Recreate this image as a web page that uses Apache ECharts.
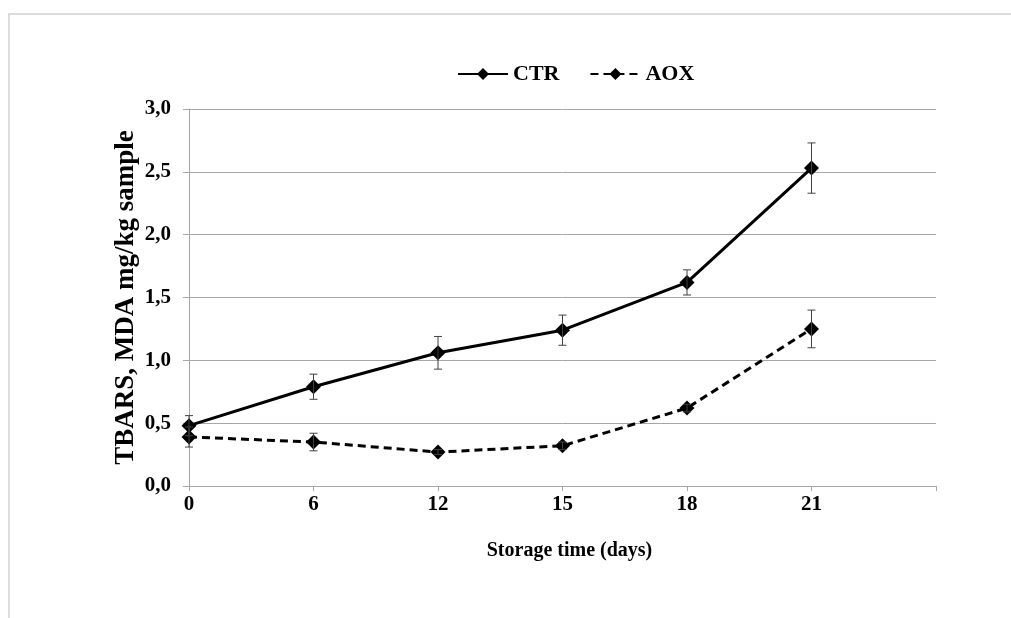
<!DOCTYPE html>
<html>
<head>
<meta charset="utf-8">
<script src="https://cdn.jsdelivr.net/npm/echarts@6/dist/echarts.min.js"></script>
<style>
    html, body { margin: 0; padding: 0; background: #fff; }
    #frame { position: absolute; left: 8px; top: 13px; width: 1011px; height: 618px;
             border-left: 2px solid #dcdcdc; border-top: 2px solid #dcdcdc; }
    #chart { position: absolute; left: 0; top: 0; width: 1011px; height: 618px; }
</style>
</head>
<body>
<div id="frame"></div>
<div id="chart"></div>
<script>
    // storage days (last slot is empty, Excel leaves one extra category)
    var days = ['0', '6', '12', '15', '18', '21', ''];
    var ctrValues = [0.48, 0.79, 1.06, 1.24, 1.62, 2.53];
    var ctrErrors = [0.08, 0.10, 0.13, 0.12, 0.10, 0.20];
    var aoxValues = [0.39, 0.35, 0.27, 0.32, 0.62, 1.25];
    var aoxErrors = [0.08, 0.07, 0.02, 0.03, 0.03, 0.15];
    var yTicks = [0, 0.5, 1.0, 1.5, 2.0, 2.5, 3.0];

    var serif = '"Liberation Serif", "Times New Roman", serif';

    function errData(vals, errs) {
        var out = [];
        for (var i = 0; i < vals.length; i++) {
            out.push([i, vals[i] - errs[i], vals[i] + errs[i]]);
        }
        return out;
    }

    function renderErr(params, api) {
        var lo = api.coord([api.value(0), api.value(1)]);
        var hi = api.coord([api.value(0), api.value(2)]);
        var w = 4;
        var st = { stroke: '#404040', lineWidth: 1 };
        return {
            type: 'group',
            children: [
                { type: 'line', shape: { x1: lo[0], y1: lo[1], x2: hi[0], y2: hi[1] }, style: st },
                { type: 'line', shape: { x1: lo[0] - w, y1: lo[1], x2: lo[0] + w, y2: lo[1] }, style: st },
                { type: 'line', shape: { x1: hi[0] - w, y1: hi[1], x2: hi[0] + w, y2: hi[1] }, style: st }
            ]
        };
    }

    var myChart = echarts.init(document.getElementById('chart'), null, { renderer: 'canvas' });
    var option = {
        backgroundColor: 'transparent',
        animation: false,
        textStyle: { fontFamily: serif },
        legend: {
            left: 452,
            top: 58,
            itemWidth: 50,
            itemHeight: 15,
            itemGap: 30,
            data: ['CTR', 'AOX'],
            textStyle: { fontFamily: serif, fontWeight: 'bold', fontSize: 22, color: '#000' }
        },
        grid: { left: 189, right: 75, top: 109, bottom: 132 },
        xAxis: {
            type: 'category',
            data: days,
            boundaryGap: false,
            name: 'Storage time (days)',
            nameLocation: 'middle',
            nameGap: 55,
            nameTextStyle: { fontFamily: serif, fontWeight: 'bold', fontSize: 20, color: '#000', padding: [0, 0, 0, 14] },
            axisLine: { lineStyle: { color: '#a6a6a6', width: 1 } },
            axisTick: { show: true, interval: 0, length: 5, lineStyle: { color: '#a6a6a6' } },
            axisLabel: { interval: 0, margin: 8, fontFamily: serif, fontWeight: 'bold', fontSize: 21, color: '#000' },
            splitLine: { show: false }
        },
        yAxis: {
            type: 'value',
            min: 0,
            max: 3,
            interval: 0.5,
            name: 'TBARS, MDA mg/kg sample',
            nameLocation: 'middle',
            nameGap: 49,
            nameMoveOverlap: false,
            nameTextStyle: { fontFamily: serif, fontWeight: 'bold', fontSize: 27, color: '#000' },
            axisLine: { show: true, lineStyle: { color: '#a6a6a6', width: 1 } },
            axisTick: { show: true, length: 6, lineStyle: { color: '#a6a6a6' } },
            axisLabel: {
                margin: 18,
                fontFamily: serif, fontWeight: 'bold', fontSize: 21, color: '#000',
                formatter: function (v) {
                    return yTicks.indexOf(v) >= 0 ? v.toFixed(1).replace('.', ',') : '';
                }
            },
            splitLine: { lineStyle: { color: '#a6a6a6', width: 1 } }
        },
        series: [
            {
                name: 'CTR',
                type: 'line',
                data: ctrValues,
                symbol: 'diamond',
                symbolSize: 15,
                color: '#000',
                lineStyle: { color: '#000', width: 3, type: 'solid' },
                itemStyle: { color: '#000' },
                z: 3
            },
            {
                name: 'AOX',
                type: 'line',
                data: aoxValues,
                symbol: 'diamond',
                symbolSize: 15,
                color: '#000',
                lineStyle: { color: '#000', width: 3, type: [8, 5] },
                itemStyle: { color: '#000' },
                z: 3
            },
            {
                name: 'CTR err',
                type: 'custom',
                renderItem: renderErr,
                data: errData(ctrValues, ctrErrors),
                encode: { x: 0, y: [1, 2] },
                z: 4
            },
            {
                name: 'AOX err',
                type: 'custom',
                renderItem: renderErr,
                data: errData(aoxValues, aoxErrors),
                encode: { x: 0, y: [1, 2] },
                z: 4
            }
        ]
    };
    myChart.setOption(option);
</script>
</body>
</html>
